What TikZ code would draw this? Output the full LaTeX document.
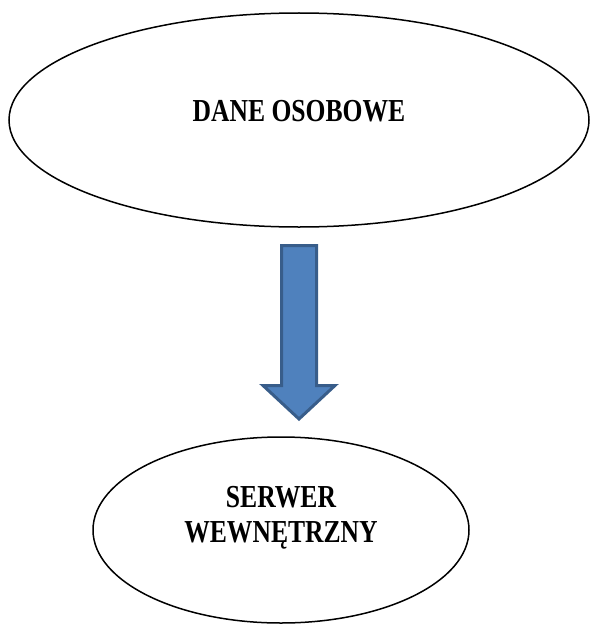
\documentclass[tikz,border=0pt]{standalone}
\usepackage{fontspec}
\setmainfont[FakeStretch=0.80]{Liberation Serif}
\usepackage{xcolor}
\usetikzlibrary{shapes.geometric}

\definecolor{arrowfill}{HTML}{4F81BD}
\definecolor{arrowline}{HTML}{385D8A}

\begin{document}
\begin{tikzpicture}[x=1pt, y=-1pt,
    oval/.style={draw, ellipse, line width=1.5pt, inner sep=0pt,
        font=\fontsize{32}{35}\selectfont\bfseries, align=center},
    blockarrow/.style={draw=arrowline, fill=arrowfill, line width=3pt, line join=miter}]
\useasboundingbox (0,0) rectangle (590,626);

\node[oval, minimum width=580pt, minimum height=214pt, text height=21pt, text depth=19pt] (dane) at (299,120) {DANE OSOBOWE};
\node[oval, minimum width=376pt, minimum height=186pt, text height=55pt, text depth=31pt] (serwer) at (281,530) {SERWER\\WEWNĘTRZNY};

% block arrow between the two ovals
\coordinate (top) at (299,245.5);
\coordinate (tip) at (299,419);
\draw[blockarrow] ([xshift=-17.5pt]top) -- ([xshift=17.5pt]top) -- ++(0,140) -- ++(18.5,0)
    -- (tip) -- ++(-36,-33.5) -- ++(18.5,0) -- cycle;

\end{tikzpicture}
\end{document}
